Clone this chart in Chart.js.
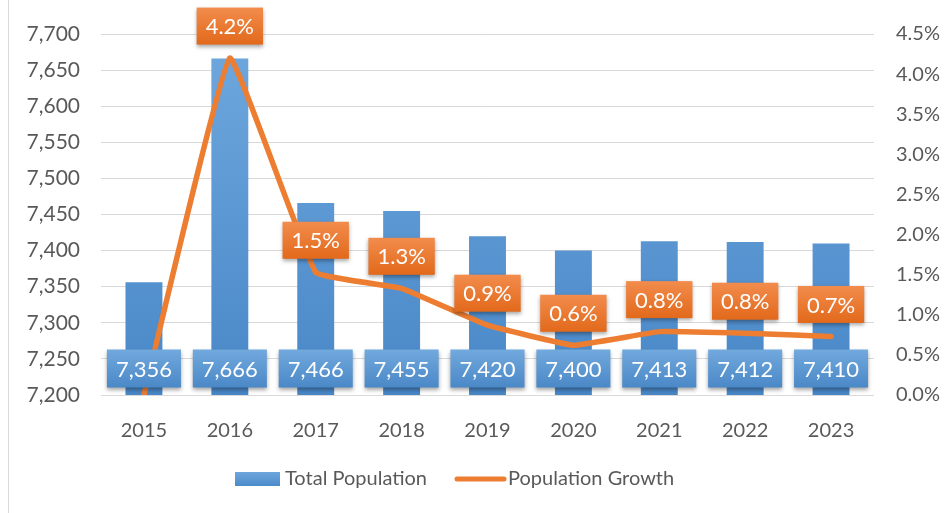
<!DOCTYPE html>
<html>
<head>
<meta charset="utf-8">
<script src="https://cdn.jsdelivr.net/npm/chart.js@4"></script>
<style>
  html, body { margin: 0; padding: 0; background: #fff; }
  canvas { display: block; }
</style>
</head>
<body>
<canvas id="pop-chart" width="950" height="513"></canvas>
<script>
const years = ['2015', '2016', '2017', '2018', '2019', '2020', '2021', '2022', '2023'];
const totalPopulation = [7356, 7666, 7466, 7455, 7420, 7400, 7413, 7412, 7410];
// growth in percent
const populationGrowth = [0.0, 4.2, 1.53, 1.33, 0.87, 0.62, 0.79, 0.77, 0.73];
const popTicks = [7200, 7250, 7300, 7350, 7400, 7450, 7500, 7550, 7600, 7650, 7700];
const growthTicks = [0, 0.5, 1, 1.5, 2, 2.5, 3, 3.5, 4, 4.5];

const FONT = 'Lato, "Open Sans", sans-serif';
const TEXT = '#595959';
const BLUE = '#5b9bd5';
const ORANGE = '#ed7d31';

function labelBox(ctx, x, y, w, h, top, bottom) {
    const g = ctx.createLinearGradient(0, y, 0, y + h);
    g.addColorStop(0, top);
    g.addColorStop(1, bottom);
    ctx.save();
    ctx.shadowColor = 'rgba(0,0,0,0.35)';
    ctx.shadowBlur = 4;
    ctx.shadowOffsetY = 2;
    ctx.fillStyle = g;
    ctx.fillRect(x, y, w, h);
    ctx.restore();
}

const labelPlugin = {
    id: 'boxLabels',
    afterDatasetsDraw(chart) {
        const ctx = chart.ctx;
        const yScale = chart.scales.y;
        const base = yScale.getPixelForValue(yScale.min);
        ctx.save();
        ctx.font = '22px ' + FONT;
        ctx.textAlign = 'center';
        ctx.textBaseline = 'middle';
        chart.getDatasetMeta(0).data.forEach((bar, i) => {
            const text = totalPopulation[i].toLocaleString('en-US');
            const w = ctx.measureText(text).width + 18;
            const h = 38;
            const cy = base - 26.5;
            labelBox(ctx, bar.x - w / 2, cy - h / 2, w, h, '#72a9dd', '#4a88c7');
            ctx.fillStyle = '#fff';
            ctx.fillText(text, bar.x, cy + 1);
        });
        chart.getDatasetMeta(1).data.forEach((pt, i) => {
            if (populationGrowth[i] === 0) return;
            const text = populationGrowth[i].toFixed(1) + '%';
            const w = ctx.measureText(text).width + 18;
            const h = 37;
            const cy = pt.y - 32;
            labelBox(ctx, pt.x - w / 2, cy - h / 2, w, h, '#f28c4c', '#e2691b');
            ctx.fillStyle = '#fff';
            ctx.fillText(text, pt.x, cy + 1);
        });
        ctx.restore();
    }
};

const framePlugin = {
    id: 'frame',
    beforeDraw(chart) {
        const ctx = chart.ctx;
        ctx.save();
        ctx.fillStyle = '#fff';
        ctx.fillRect(0, 0, chart.width, chart.height);
        ctx.strokeStyle = '#d9d9d9';
        ctx.lineWidth = 1;
        ctx.beginPath();
        ctx.moveTo(8.5, 0);
        ctx.lineTo(8.5, chart.height);
        ctx.stroke();
        ctx.restore();
    },
    afterDraw(chart) {
        // legend
        const ctx = chart.ctx;
        const y = 479;
        ctx.save();
        const g = ctx.createLinearGradient(0, y - 7, 0, y + 7);
        g.addColorStop(0, '#6ea6dc');
        g.addColorStop(1, '#4a8bcb');
        ctx.fillStyle = g;
        ctx.fillRect(235, y - 7, 45, 14);
        ctx.strokeStyle = ORANGE;
        ctx.lineWidth = 5;
        ctx.lineCap = 'round';
        ctx.beginPath();
        ctx.moveTo(457, y);
        ctx.lineTo(504, y);
        ctx.stroke();
        ctx.font = '20px ' + FONT;
        ctx.fillStyle = TEXT;
        ctx.textBaseline = 'middle';
        ctx.fillText('Total Population', 285, y);
        ctx.fillText('Population Growth', 508, y);
        ctx.restore();
    }
};

const ctx = document.getElementById('pop-chart').getContext('2d');
const popChart = new Chart(ctx, {
    data: {
        labels: years,
        datasets: [{
            type: 'bar',
            label: 'Total Population',
            data: totalPopulation,
            yAxisID: 'y',
            order: 1,
            backgroundColor: (c) => {
                const area = c.chart.chartArea;
                if (!area) return BLUE;
                const g = c.chart.ctx.createLinearGradient(0, area.top, 0, area.bottom);
                g.addColorStop(0, '#6fa8de');
                g.addColorStop(1, '#4887c7');
                return g;
            },
            barPercentage: 0.43,
            categoryPercentage: 1.0
        }, {
            type: 'line',
            label: 'Population Growth',
            data: populationGrowth,
            yAxisID: 'y1',
            order: 0,
            borderColor: ORANGE,
            borderWidth: 5.5,
            borderCapStyle: 'round',
            borderJoinStyle: 'round',
            pointRadius: 0,
            tension: 0.08,
            fill: false
        }]
    },
    options: {
        responsive: false,
        animation: false,
        layout: { padding: { top: 34, bottom: 0, left: 0, right: 0 } },
        plugins: {
            legend: { display: false },
            tooltip: { enabled: false }
        },
        scales: {
            x: {
                grid: { display: false },
                border: { display: false },
                ticks: { color: TEXT, font: { family: FONT, size: 20 }, padding: 16 },
                afterFit: (s) => { s.height = 118; }
            },
            y: {
                position: 'left',
                min: 7200,
                max: 7700,
                afterBuildTicks: (s) => { s.ticks = popTicks.map(v => ({ value: v })); },
                grid: { color: '#d9d9d9', lineWidth: 1, drawTicks: false },
                border: { display: false },
                ticks: {
                    color: TEXT,
                    font: { family: FONT, size: 21 },
                    padding: 21,
                    callback: (v) => v.toLocaleString('en-US')
                },
                afterFit: (s) => { s.width = 101; }
            },
            y1: {
                position: 'right',
                min: 0,
                max: 4.5,
                afterBuildTicks: (s) => { s.ticks = growthTicks.map(v => ({ value: v })); },
                grid: { display: false },
                border: { display: false },
                ticks: {
                    color: TEXT,
                    font: { family: FONT, size: 20 },
                    padding: 14,
                    callback: (v) => v.toFixed(1) + '%'
                },
                afterFit: (s) => { s.width = 76; }
            }
        }
    },
    plugins: [framePlugin, labelPlugin]
});
</script>
</body>
</html>
